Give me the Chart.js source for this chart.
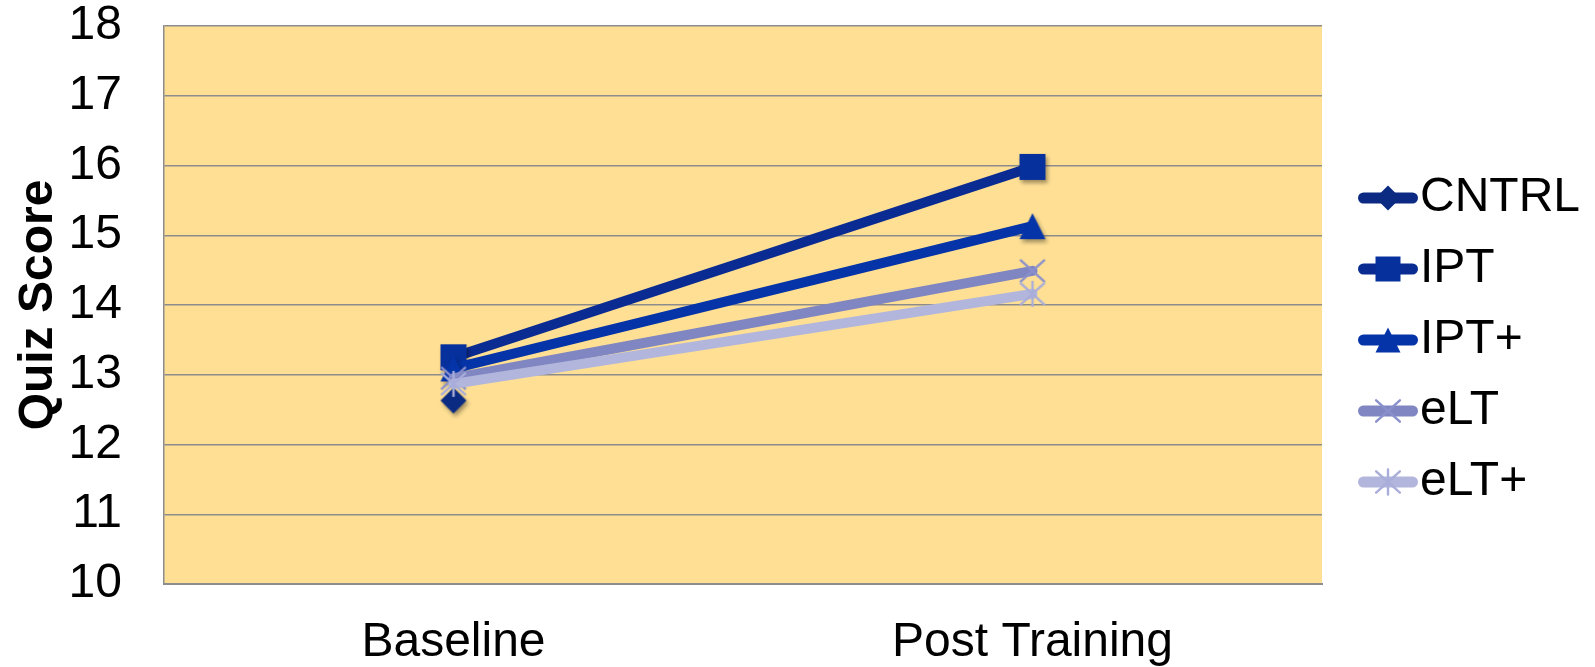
<!DOCTYPE html>
<html>
<head>
<meta charset="utf-8">
<title>Quiz Score by Group</title>
<script src="https://cdn.jsdelivr.net/npm/chart.js@4.4.1/dist/chart.umd.min.js"></script>
<style>
  html, body { margin: 0; padding: 0; background: #ffffff; }
  #c { display: block; }
</style>
</head>
<body>
<canvas id="c" width="1595" height="667"></canvas>
<script>
// ---- data ----
const categories = ['Baseline', 'Post Training'];
const groupNames = ['CNTRL', 'IPT', 'IPT+', 'eLT', 'eLT+'];
const cntrlScores   = [12.63, null];
const iptScores     = [13.25, 15.98];
const iptPlusScores = [13.09, 15.13];
const eltScores     = [12.95, 14.49];
const eltPlusScores = [12.87, 14.16];
const yTickValues   = [10, 11, 12, 13, 14, 15, 16, 17, 18];

// ---- styling ----
const FONT = '"Liberation Sans", Arial, Helvetica, sans-serif';
const seriesColors = ['#0c2a84', '#0a2b92', '#0434a8', '#7f86c1', '#b2b6dc'];
const markerColors = ['#0b2a82', '#06309c', '#0434a8', '#8a90cc', '#a9add9'];
const markerKinds  = ['diamond', 'square', 'triangle', 'cross', 'star'];
const PLOT_FILL = '#fedf94';
const GRID = '#8c8c8c';

function drawShape(g, kind, x, y, size, color, shadow) {
  const h = size / 2;
  g.save();
  g.translate(x, y);
  if (shadow) {
    g.shadowColor = 'rgba(0,0,0,0.38)';
    g.shadowBlur = 4;
    g.shadowOffsetX = 2;
    g.shadowOffsetY = 3;
  }
  g.fillStyle = color;
  g.strokeStyle = color;
  g.beginPath();
  switch (kind) {
    case 'square':
      g.rect(-h, -h, size, size);
      g.fill();
      break;
    case 'diamond':
      g.moveTo(0, -h); g.lineTo(h, 0); g.lineTo(0, h); g.lineTo(-h, 0); g.closePath();
      g.fill();
      break;
    case 'triangle':
      g.moveTo(0, -h); g.lineTo(h, h); g.lineTo(-h, h); g.closePath();
      g.fill();
      break;
    case 'cross':
      g.lineWidth = 2.4;
      g.moveTo(-h * 0.95, -h * 0.85); g.lineTo(h * 0.95, h * 0.85);
      g.moveTo(h * 0.95, -h * 0.85); g.lineTo(-h * 0.95, h * 0.85);
      g.stroke();
      break;
    case 'star':
      g.lineWidth = 2.4;
      g.moveTo(-h * 0.95, -h * 0.85); g.lineTo(h * 0.95, h * 0.85);
      g.moveTo(h * 0.95, -h * 0.85); g.lineTo(-h * 0.95, h * 0.85);
      g.moveTo(0, -h); g.lineTo(0, h);
      g.stroke();
      break;
  }
  g.restore();
}

// marker images used as point styles (centered, with drop shadow)
function markerImage(kind, color) {
  const size = 26, margin = 9, W = size + margin * 2;
  const c = document.createElement('canvas');
  c.width = W; c.height = W;
  drawShape(c.getContext('2d'), kind, W / 2, W / 2, size, color, kind !== 'cross' && kind !== 'star');
  return c;
}

const seriesData = [cntrlScores, iptScores, iptPlusScores, eltScores, eltPlusScores];
const datasets = groupNames.map((name, i) => ({
  label: name,
  data: seriesData[i],
  borderColor: seriesColors[i],
  backgroundColor: seriesColors[i],
  pointBackgroundColor: markerColors[i],
  borderWidth: 10,
  borderCapStyle: 'round',
  borderJoinStyle: 'round',
  pointStyle: markerImage(markerKinds[i], markerColors[i]),
  pointRadius: 13,
  pointHoverRadius: 13,
  tension: 0,
  spanGaps: false,
  order: groupNames.length - 1 - i
}));

// shaded plot area behind the grid
const plotFill = {
  id: 'plotFill',
  beforeDraw(chart) {
    const { ctx, chartArea: a } = chart;
    ctx.save();
    ctx.fillStyle = PLOT_FILL;
    ctx.fillRect(a.left, a.top, a.right - a.left, a.bottom - a.top);
    ctx.restore();
  }
};

// legend on the right: line sample with marker, then the group name
const LEGEND_X = 1358, LEGEND_W = 60, LEGEND_TOP = 198, LEGEND_STEP = 71;
const sideLegend = {
  id: 'sideLegend',
  afterDraw(chart) {
    const ctx = chart.ctx;
    chart.data.datasets.forEach((ds, i) => {
      const y = LEGEND_TOP + i * LEGEND_STEP;
      ctx.save();
      ctx.strokeStyle = ds.borderColor;
      ctx.lineWidth = 11;
      ctx.lineCap = 'round';
      ctx.beginPath();
      ctx.moveTo(LEGEND_X + 5.5, y);
      ctx.lineTo(LEGEND_X + LEGEND_W - 5.5, y);
      ctx.stroke();
      drawShape(ctx, markerKinds[i], LEGEND_X + LEGEND_W / 2, y, 25, ds.pointBackgroundColor, false);
      ctx.fillStyle = '#000000';
      ctx.font = '48px ' + FONT;
      ctx.textBaseline = 'middle';
      ctx.textAlign = 'left';
      ctx.fillText(ds.label, LEGEND_X + LEGEND_W + 2, y);
      ctx.restore();
    });
  }
};

Chart.defaults.font.family = FONT;
Chart.defaults.color = '#000000';

new Chart(document.getElementById('c'), {
  type: 'line',
  data: { labels: categories, datasets },
  options: {
    responsive: false,
    animation: false,
    devicePixelRatio: 1,
    events: [],
    layout: { padding: { top: 26, right: 273, bottom: 0, left: 0 } },
    plugins: {
      legend: { display: false },
      tooltip: { enabled: false }
    },
    scales: {
      x: {
        type: 'category',
        offset: true,
        grid: { display: false, drawTicks: false },
        border: { display: true, color: GRID, width: 2 },
        ticks: { padding: 30, font: { size: 48 }, color: '#000000', maxRotation: 0 },
        afterFit(scale) { scale.height = 83; scale.paddingLeft = 0; scale.paddingRight = 0; }
      },
      y: {
        min: yTickValues[0],
        max: yTickValues[yTickValues.length - 1],
        afterBuildTicks(scale) { scale.ticks = yTickValues.map(v => ({ value: v })); },
        grid: { color: GRID, lineWidth: 1.5, drawTicks: false },
        border: { display: true, color: GRID, width: 1.5 },
        ticks: { padding: 42, font: { size: 48, lineHeight: 1 }, color: '#000000' },
        title: {
          display: true,
          text: 'Quiz Score',
          font: { size: 48, weight: 'bold', lineHeight: 1.2 },
          color: '#000000',
          padding: { top: 10, bottom: 0 }
        },
        afterFit(scale) { scale.width = 164; scale.paddingTop = 0; scale.paddingBottom = 0; }
      }
    }
  },
  plugins: [plotFill, sideLegend]
});
</script>
</body>
</html>
